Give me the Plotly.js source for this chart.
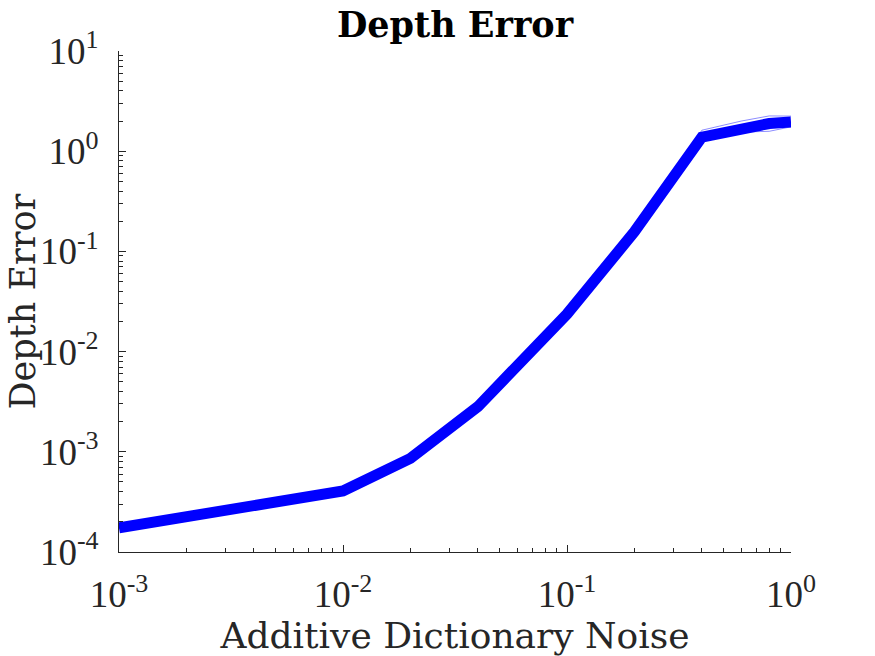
<!DOCTYPE html>
<html>
<head>
<meta charset="utf-8">
<script src="https://cdn.plot.ly/plotly-3.0.1.min.js"></script>
<style>html,body{margin:0;padding:0;background:#fff;}#chart{width:875px;height:656px;}</style>
</head>
<body>
<div id="chart"></div>
<script>
// Additive dictionary noise levels
const noise = [0.001, 0.01, 0.02, 0.04, 0.1, 0.2, 0.4, 0.6, 0.8, 1.0];
// Mean depth error (thick line)
const meanError = [1.74e-4, 4.07e-4, 8.6e-4, 2.82e-3, 0.0237, 0.157, 1.38, 1.72, 1.89, 1.96];
// Individual trials (thin translucent lines)
const trialA = [1.74e-4, 4.07e-4, 8.6e-4, 2.82e-3, 0.0237, 0.157, 1.62, 2.0, 2.25, 2.24];
const trialB = [1.74e-4, 4.07e-4, 8.6e-4, 2.82e-3, 0.0237, 0.157, 1.30, 1.55, 1.58, 1.75];
const trialC = [1.74e-4, 4.07e-4, 8.6e-4, 2.82e-3, 0.0237, 0.157, 1.40, 1.70, 1.85, 1.95];

const xTickVals = [0.001, 0.01, 0.1, 1];
const xTickExp = ['-3', '-2', '-1', '0'];
const yTickVals = [1e-4, 1e-3, 1e-2, 1e-1, 1, 10];
const yTickExp = ['-4', '-3', '-2', '-1', '0', '1'];
const xLabel = 'Additive Dictionary Noise';
const yLabel = 'Depth Error';
const titleText = 'Depth Error';

function pow10Label(e) {
  return '10<sup><span style="font-size:26px">' + e + '</span></sup>';
}

function minorVals(lo, hi) {
  const v = [];
  for (let e = lo; e < hi; e++) for (let m = 2; m <= 9; m++) v.push(m * Math.pow(10, e));
  return v;
}

const thin = {color: 'rgba(0,0,255,0.45)', width: 1};
const traces = [
  {x: noise, y: trialA, mode: 'lines', line: thin, hoverinfo: 'skip'},
  {x: noise, y: trialB, mode: 'lines', line: thin, hoverinfo: 'skip'},
  {x: noise, y: trialC, mode: 'lines', line: thin, hoverinfo: 'skip'},
  {x: noise, y: meanError, mode: 'lines', line: {color: 'rgb(0,0,255)', width: 11}}
];

const tickFont = {family: 'Liberation Serif, serif', size: 37, color: '#262626'};
const labelFont = {family: 'DejaVu Serif, serif', size: 36, color: '#262626'};
const yLabelFont = {family: 'DejaVu Serif, serif', size: 35, color: '#262626'};
const layout = {
  width: 875, height: 656,
  margin: {l: 119, r: 84, t: 51, b: 104},
  paper_bgcolor: '#fff', plot_bgcolor: '#fff',
  showlegend: false,
  title: {text: '<b>' + titleText + '</b>', x: 0.52, xanchor: 'center', y: 0.963, yanchor: 'middle',
          font: {family: 'DejaVu Serif, serif', size: 35, color: '#000'}},
  xaxis: {
    type: 'log', range: [-3, 0], showgrid: false, zeroline: false,
    showline: true, linecolor: '#262626', linewidth: 1, mirror: false,
    ticks: 'inside', ticklen: 7, tickcolor: '#262626', tickwidth: 1,
    tickvals: xTickVals, ticktext: xTickExp.map(pow10Label), tickfont: tickFont,
    ticklabelstandoff: 10,
    minor: {tickvals: minorVals(-3, 0), ticks: 'inside', ticklen: 4, tickcolor: '#262626', tickwidth: 1, showgrid: false},
    title: {text: xLabel, font: labelFont, standoff: 0}
  },
  yaxis: {
    type: 'log', range: [-4, 1], showgrid: false, zeroline: false,
    showline: true, linecolor: '#262626', linewidth: 1, mirror: false,
    ticks: 'inside', ticklen: 7, tickcolor: '#262626', tickwidth: 1,
    tickvals: yTickVals, ticktext: yTickExp.map(pow10Label), tickfont: tickFont,
    ticklabelstandoff: 12,
    minor: {tickvals: minorVals(-4, 1), ticks: 'inside', ticklen: 4, tickcolor: '#262626', tickwidth: 1, showgrid: false}
  },
  annotations: [{
    text: yLabel, xref: 'paper', yref: 'paper', x: 0, y: 0.5,
    xanchor: 'center', yanchor: 'middle', xshift: -97, yshift: 0,
    textangle: -90, showarrow: false, font: yLabelFont
  }]
};

Plotly.newPlot('chart', traces, layout, {staticPlot: true, displayModeBar: false});
</script>
</body>
</html>
